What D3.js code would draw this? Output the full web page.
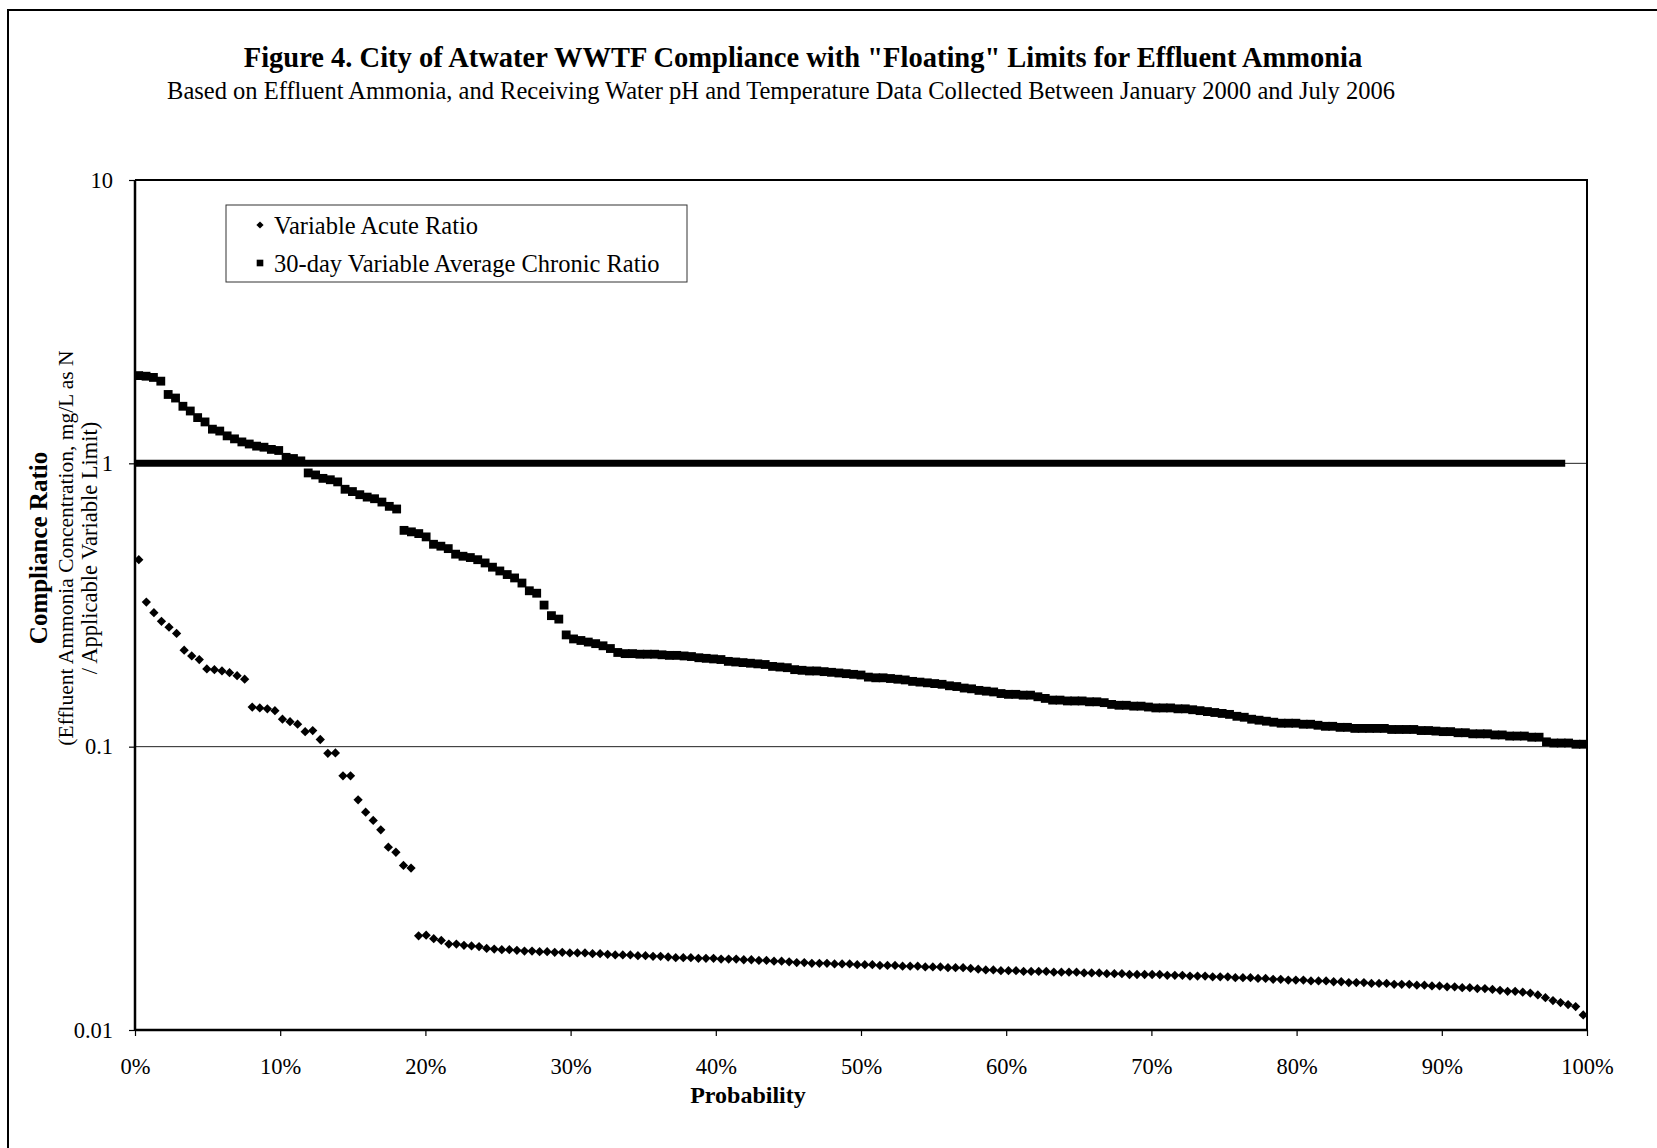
<!DOCTYPE html>
<html>
<head>
<meta charset="utf-8">
<script src="https://cdn.jsdelivr.net/npm/d3@7"></script>
<style>
  body { margin: 0; background: #fff; }
  text { font-family: "Liberation Serif", "Times New Roman", serif; fill: #000; }
</style>
</head>
<body>
<div id="chart"></div>
<script>
// ---- data ----
const seriesNames = ["Variable Acute Ratio", "30-day Variable Average Chronic Ratio"];

// sorted compliance ratios, highest first (probability = rank position)
const acuteRatio = [
  0.457, 0.324, 0.297, 0.277, 0.264, 0.251, 0.219, 0.209, 0.203, 0.188,
  0.187, 0.185, 0.1825, 0.178, 0.173, 0.138, 0.137, 0.136, 0.134, 0.125,
  0.1225, 0.120, 0.113, 0.114, 0.106, 0.0947, 0.095, 0.0789, 0.0789, 0.0649,
  0.0587, 0.0549, 0.0509, 0.0442, 0.0424, 0.0381, 0.0373, 0.0215, 0.0216, 0.0210,
  0.0207, 0.0201, 0.0201, 0.0199, 0.0198, 0.0197, 0.0194, 0.0193, 0.0192, 0.0192,
  0.0191, 0.0190, 0.0190, 0.0189, 0.0189, 0.0188, 0.0188, 0.0187, 0.0187, 0.0187,
  0.0186, 0.0186, 0.0185, 0.0184, 0.0184, 0.0184, 0.0183, 0.0183, 0.0182, 0.0182,
  0.0181, 0.0180, 0.0180, 0.0180, 0.0179, 0.0179, 0.0179, 0.0178, 0.0178, 0.0178,
  0.0177, 0.0177, 0.0176, 0.0176, 0.0175, 0.0175, 0.0174, 0.0173, 0.0173, 0.0172,
  0.0172, 0.0172, 0.0171, 0.0171, 0.0171, 0.0170, 0.0170, 0.0170, 0.0169, 0.0169,
  0.0169, 0.0168, 0.0168, 0.0168, 0.0167, 0.0167, 0.0167, 0.0166, 0.0166, 0.0166,
  0.0165, 0.0164, 0.0163, 0.0163, 0.0162, 0.0162, 0.0162, 0.0161, 0.0161, 0.0161,
  0.0161, 0.0160, 0.0160, 0.0160, 0.0160, 0.0159, 0.0159, 0.0159, 0.0158, 0.0158,
  0.0158, 0.0157, 0.0157, 0.0157, 0.0157, 0.0157, 0.0156, 0.0156, 0.0156, 0.0155,
  0.0155, 0.0155, 0.0154, 0.0154, 0.0154, 0.0153, 0.0153, 0.0153, 0.0152, 0.0152,
  0.0151, 0.0151, 0.0150, 0.0150, 0.0150, 0.0149, 0.0149, 0.0149, 0.0148, 0.0148,
  0.0147, 0.0147, 0.0147, 0.0146, 0.0146, 0.0146, 0.0145, 0.0145, 0.0145, 0.0144,
  0.0144, 0.0143, 0.0143, 0.0142, 0.0142, 0.0141, 0.0141, 0.0140, 0.0140, 0.0139,
  0.0138, 0.0137, 0.0137, 0.0136, 0.0135, 0.0133, 0.0130, 0.0127, 0.0125, 0.0123,
  0.0121, 0.0113
];

const chronicRatio = [
  2.04, 2.03, 2.01, 1.95, 1.75, 1.70, 1.59, 1.53, 1.45, 1.40,
  1.32, 1.30, 1.25, 1.22, 1.19, 1.17, 1.15, 1.14, 1.12, 1.11,
  1.05, 1.04, 1.02, 0.925, 0.91, 0.885, 0.875, 0.86, 0.81, 0.795,
  0.775, 0.76, 0.75, 0.73, 0.705, 0.69, 0.58, 0.573, 0.565, 0.55,
  0.518, 0.51, 0.50, 0.478, 0.47, 0.465, 0.457, 0.445, 0.43, 0.417,
  0.405, 0.394, 0.378, 0.355, 0.348, 0.316, 0.29, 0.282, 0.248, 0.24,
  0.237, 0.234, 0.231, 0.227, 0.222, 0.215, 0.213, 0.213, 0.212, 0.212,
  0.212, 0.211, 0.210, 0.210, 0.209, 0.208, 0.206, 0.205, 0.204, 0.203,
  0.200, 0.199, 0.198, 0.197, 0.196, 0.195, 0.192, 0.191, 0.190, 0.187,
  0.186, 0.185, 0.185, 0.184, 0.183, 0.182, 0.181, 0.180, 0.179, 0.176,
  0.175, 0.175, 0.174, 0.173, 0.172, 0.170, 0.169, 0.168, 0.167, 0.166,
  0.164, 0.163, 0.161, 0.160, 0.158, 0.157, 0.156, 0.154, 0.153, 0.153,
  0.152, 0.152, 0.150, 0.148, 0.146, 0.146, 0.145, 0.145, 0.145, 0.144,
  0.144, 0.143, 0.141, 0.140, 0.140, 0.139, 0.139, 0.138, 0.137, 0.137,
  0.137, 0.136, 0.136, 0.135, 0.134, 0.133, 0.132, 0.131, 0.130, 0.128,
  0.127, 0.125, 0.124, 0.123, 0.122, 0.121, 0.121, 0.121, 0.120, 0.120,
  0.119, 0.118, 0.118, 0.117, 0.117, 0.116, 0.116, 0.116, 0.116, 0.116,
  0.115, 0.115, 0.115, 0.115, 0.114, 0.114, 0.1135, 0.113, 0.113, 0.112,
  0.112, 0.111, 0.111, 0.111, 0.110, 0.110, 0.109, 0.109, 0.109, 0.108,
  0.108, 0.104, 0.103, 0.103, 0.103, 0.102, 0.102
];

// compliance threshold (ratio = 1) drawn as a heavy bar
const limitProb = [0, 0.985];
const limitRatio = [1, 1];

const yTicks = [0.01, 0.1, 1, 10];
const yTickLabels = ["0.01", "0.1", "1", "10"];
const yGrid = [0.1, 1];
const xTicks = [0, 0.1, 0.2, 0.3, 0.4, 0.5, 0.6, 0.7, 0.8, 0.9, 1];

// ---- layout ----
const W = 1657, H = 1148;
const plot = {left: 135, right: 1587, top: 180, bottom: 1030};

const svg = d3.select("#chart").append("svg")
  .attr("width", W)
  .attr("height", H);

// outer frame (runs off the page on the right and bottom, as in the scan)
svg.append("rect")
  .attr("x", 8).attr("y", 10)
  .attr("width", W + 20).attr("height", H + 20)
  .attr("fill", "none").attr("stroke", "#000").attr("stroke-width", 2);

// titles
svg.append("text")
  .attr("x", 803).attr("y", 67)
  .attr("text-anchor", "middle")
  .attr("font-weight", "bold")
  .attr("font-size", 28.5)
  .text('Figure 4. City of Atwater WWTF Compliance with "Floating" Limits for Effluent Ammonia');

svg.append("text")
  .attr("x", 781).attr("y", 99)
  .attr("text-anchor", "middle")
  .attr("font-size", 24.5)
  .text("Based on Effluent Ammonia, and Receiving Water pH and Temperature Data Collected Between January 2000 and July 2006");

const x = d3.scaleLinear().domain([0, 1]).range([plot.left, plot.right]);
const y = d3.scaleLog().domain([0.01, 10]).range([plot.bottom, plot.top]);

const prob = (i, n) => (i + 0.5) / n;

// gridlines
svg.append("g")
  .selectAll("line")
  .data(yGrid)
  .join("line")
  .attr("x1", plot.left).attr("x2", plot.right)
  .attr("y1", d => y(d)).attr("y2", d => y(d))
  .attr("stroke", "#222").attr("stroke-width", 1);

// plot frame (top and right)
svg.append("path")
  .attr("d", `M${plot.left},${plot.top}H${plot.right}V${plot.bottom}`)
  .attr("fill", "none").attr("stroke", "#000").attr("stroke-width", 2);

// axes
const yAxis = svg.append("g")
  .attr("transform", `translate(${plot.left},0)`)
  .call(d3.axisLeft(y)
    .tickValues(yTicks)
    .tickFormat((d, i) => yTickLabels[i])
    .tickSize(6)
    .tickPadding(16));

const xAxis = svg.append("g")
  .attr("transform", `translate(0,${plot.bottom})`)
  .call(d3.axisBottom(x)
    .tickValues(xTicks)
    .tickFormat(d3.format(".0%"))
    .tickSize(6)
    .tickPadding(22));

[yAxis, xAxis].forEach(g => {
  g.select(".domain").attr("stroke-width", 2.5);
  g.selectAll(".tick line").attr("stroke-width", 1.2);
  g.selectAll("text")
    .attr("font-family", "Liberation Serif, serif")
    .attr("font-size", 22.5);
});
yAxis.select(".domain").attr("d", `M0,${plot.bottom}V${plot.top}`);
xAxis.select(".domain").attr("d", `M${plot.left},0H${plot.right}`);

// axis titles
svg.append("text")
  .attr("x", 748).attr("y", 1103)
  .attr("text-anchor", "middle")
  .attr("font-weight", "bold")
  .attr("font-size", 24)
  .text("Probability");

const yTitle = svg.append("text")
  .attr("transform", "translate(47,548) rotate(-90)")
  .attr("text-anchor", "middle");
yTitle.append("tspan").attr("x", 0).attr("dy", 0)
  .attr("font-weight", "bold").attr("font-size", 25)
  .text("Compliance Ratio");
yTitle.append("tspan").attr("x", 0).attr("dy", 25.5)
  .attr("font-size", 21.5)
  .text("(Effluent Ammonia Concentration, mg/L as N");
yTitle.append("tspan").attr("x", 0).attr("dy", 24.5)
  .attr("font-size", 22.5)
  .text("/ Applicable Variable Limit)");

// limit bar at ratio 1
svg.append("path")
  .datum(limitProb.map((p, i) => [p, limitRatio[i]]))
  .attr("d", d3.line().x(d => x(d[0])).y(d => y(d[1])))
  .attr("stroke", "#000").attr("stroke-width", 7).attr("fill", "none");

// chronic series: squares
const square = d3.symbol(d3.symbolSquare, 78);
svg.append("g")
  .selectAll("path")
  .data(chronicRatio)
  .join("path")
  .attr("d", square)
  .attr("transform", (d, i) => `translate(${x(prob(i, chronicRatio.length))},${y(d)})`)
  .attr("fill", "#000");

// acute series: diamonds (rotated squares)
const diamond = d3.symbol(d3.symbolSquare, 43);
svg.append("g")
  .selectAll("path")
  .data(acuteRatio)
  .join("path")
  .attr("d", diamond)
  .attr("transform", (d, i) => `translate(${x(prob(i, acuteRatio.length))},${y(d)}) rotate(45)`)
  .attr("fill", "#000");

// legend
const legend = svg.append("g").attr("transform", "translate(226,205)");
legend.append("rect")
  .attr("width", 461).attr("height", 77)
  .attr("fill", "#fff").attr("stroke", "#333").attr("stroke-width", 1);

const legendItems = legend.selectAll("g")
  .data(seriesNames)
  .join("g")
  .attr("transform", (d, i) => `translate(34,${20 + i * 38})`);

legendItems.append("path")
  .attr("d", (d, i) => i === 0 ? d3.symbol(d3.symbolSquare, 26)() : d3.symbol(d3.symbolSquare, 44)())
  .attr("transform", (d, i) => i === 0 ? "rotate(45)" : null)
  .attr("fill", "#000");

legendItems.append("text")
  .attr("x", 14).attr("dy", "0.35em")
  .attr("font-size", 24.5)
  .text(d => d);
</script>
</body>
</html>
